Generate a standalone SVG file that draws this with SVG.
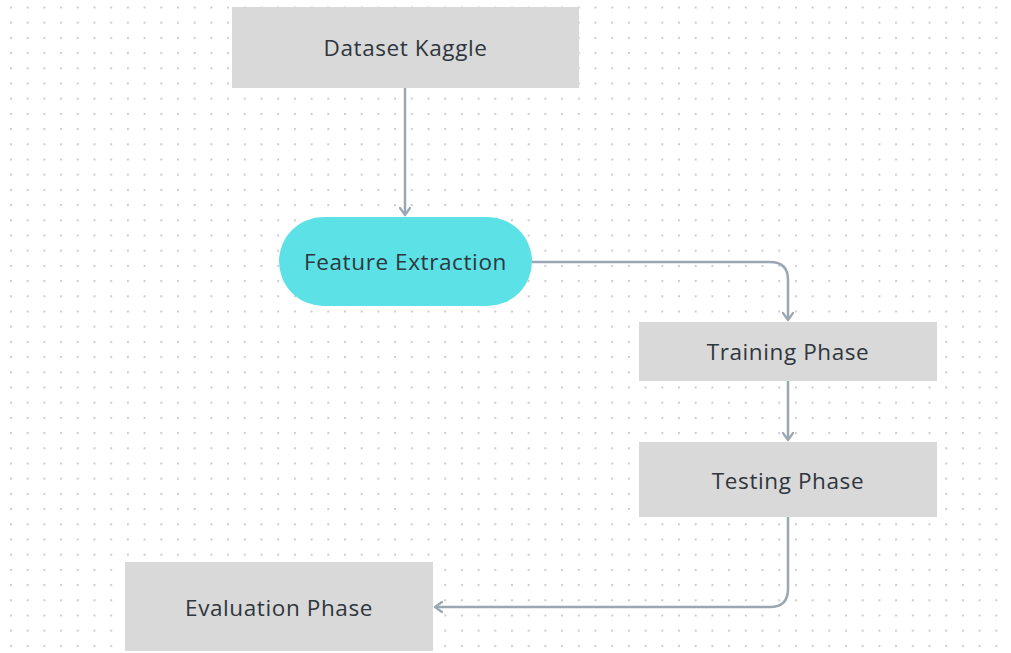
<svg xmlns="http://www.w3.org/2000/svg" width="1011" height="653" viewBox="0 0 1011 653">
  <defs>
    <pattern id="dots" x="10" y="6.5" width="16.7" height="15.2" patternUnits="userSpaceOnUse">
      <circle cx="0.9" cy="0.9" r="1.25" fill="#cdcdcd"/>
    </pattern>
    <marker id="chev" viewBox="0 0 12 12" refX="10" refY="6" markerWidth="12" markerHeight="12" markerUnits="userSpaceOnUse" orient="auto">
      <path d="M3,1 L10,6 L3,11" fill="none" stroke="#9aa7b2" stroke-width="2.2" stroke-linecap="round" stroke-linejoin="round"/>
    </marker>
    <style>
      .box { fill: #d9d9d9; }
      .pill { fill: #5ce1e6; }
      .lbl { font-family: "Open Sans", "Noto Sans", sans-serif; font-size: 22.5px; letter-spacing: 0.6px; fill: #2f363d; text-anchor: middle; dominant-baseline: central; }
      .wire { fill: none; stroke: #9aa7b2; stroke-width: 2.5; marker-end: url(#chev); }
    </style>
  </defs>

  <!-- canvas with dotted grid -->
  <rect width="1011" height="653" fill="#ffffff"/>
  <rect width="1011" height="653" fill="url(#dots)"/>

  <g id="connectors">
    <path class="wire" d="M405,88 V215"/>
    <path class="wire" d="M532,262 H770 Q788,262 788,280 V320"/>
    <path class="wire" d="M788,381 V440"/>
    <path class="wire" d="M788,517 V589 Q788,607 770,607 H435"/>
  </g>

  <g id="dataset-kaggle">
    <rect class="box" x="232" y="7" width="347" height="81"/>
    <text class="lbl" x="405.5" y="47">Dataset Kaggle</text>
  </g>

  <g id="feature-extraction">
    <rect class="pill" x="279" y="217" width="253" height="89" rx="44.5" ry="44.5"/>
    <text class="lbl" x="405.5" y="261">Feature Extraction</text>
  </g>

  <g id="training-phase">
    <rect class="box" x="639" y="322" width="298" height="59"/>
    <text class="lbl" x="788" y="351">Training Phase</text>
  </g>

  <g id="testing-phase">
    <rect class="box" x="639" y="442" width="298" height="75"/>
    <text class="lbl" x="788" y="480">Testing Phase</text>
  </g>

  <g id="evaluation-phase">
    <rect class="box" x="125" y="562" width="308" height="89"/>
    <text class="lbl" x="279" y="607">Evaluation Phase</text>
  </g>
</svg>
